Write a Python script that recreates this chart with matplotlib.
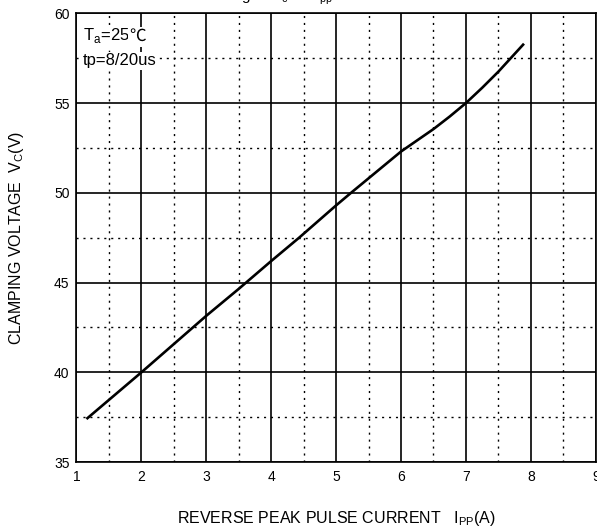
import numpy as np
import matplotlib.pyplot as plt
from matplotlib.ticker import MultipleLocator

plt.rcParams['font.family'] = ['Liberation Sans', 'DejaVu Sans']

# curve
ipp = [1.17, 2.0, 3.0, 3.5, 4.0, 4.43, 5.0, 5.23, 6.0, 6.5, 6.75, 7.0, 7.25, 7.5, 7.88]
vc = [37.45, 40.0, 43.15, 44.65, 46.2, 47.5, 49.3, 50.0, 52.3, 53.55, 54.25, 55.0, 55.85, 56.75, 58.25]

x_ticks = [1, 2, 3, 4, 5, 6, 7, 8, 9]
y_ticks = [35, 40, 45, 50, 55, 60]

fig = plt.figure(figsize=(5.97, 5.30), dpi=100)
ax = fig.add_axes([0.128, 0.128, 0.87, 0.847])

ax.plot(ipp, vc, color='black', linewidth=1.9, zorder=3)

ax.set_xlim(1, 9)
ax.set_ylim(35, 60)
ax.set_xticks(x_ticks)
ax.set_yticks(y_ticks)
ax.xaxis.set_minor_locator(MultipleLocator(0.5))
ax.yaxis.set_minor_locator(MultipleLocator(2.5))
ax.grid(which='major', color='black', linewidth=1.2, linestyle='-')
ax.grid(which='minor', color='black', linewidth=1.0, linestyle=(0, (1.5, 3.5)))
ax.set_axisbelow(True)
ax.tick_params(which='both', length=0, labelsize=10, colors='black')
ax.tick_params(axis='x', pad=6)
ax.tick_params(axis='y', pad=5)
for s in ax.spines.values():
    s.set_linewidth(1.2)

ax.set_xlabel('REVERSE PEAK PULSE CURRENT   I$_{\\mathregular{PP}}$(A)', fontsize=11.5, labelpad=18)
ax.set_ylabel('CLAMPING VOLTAGE  V$_{\\mathregular{C}}$(V)', fontsize=11.5, labelpad=20)

box = dict(facecolor='white', edgecolor='none', pad=1)
t1 = ax.text(1.10, 58.5, 'T$_{\\mathregular{a}}$=25', fontsize=12, bbox=box, zorder=4)
ax.annotate('℃', xy=(1, 0), xycoords=t1, va='bottom', fontsize=12,
            family=['Noto Sans CJK SC', 'DejaVu Sans'], fontweight='light',
            bbox=box, zorder=4, annotation_clip=False)
ax.text(1.10, 57.1, 'tp=8/20us', fontsize=12, bbox=box, zorder=4)

# title is cut off by the top edge in the original
fig.text(0.384, 1.0, 'Fig.2  V$_{\\mathregular{c}}$ vs. I$_{\\mathregular{pp}}$', fontsize=11, va='baseline')

fig.savefig('out.png', dpi=100)
